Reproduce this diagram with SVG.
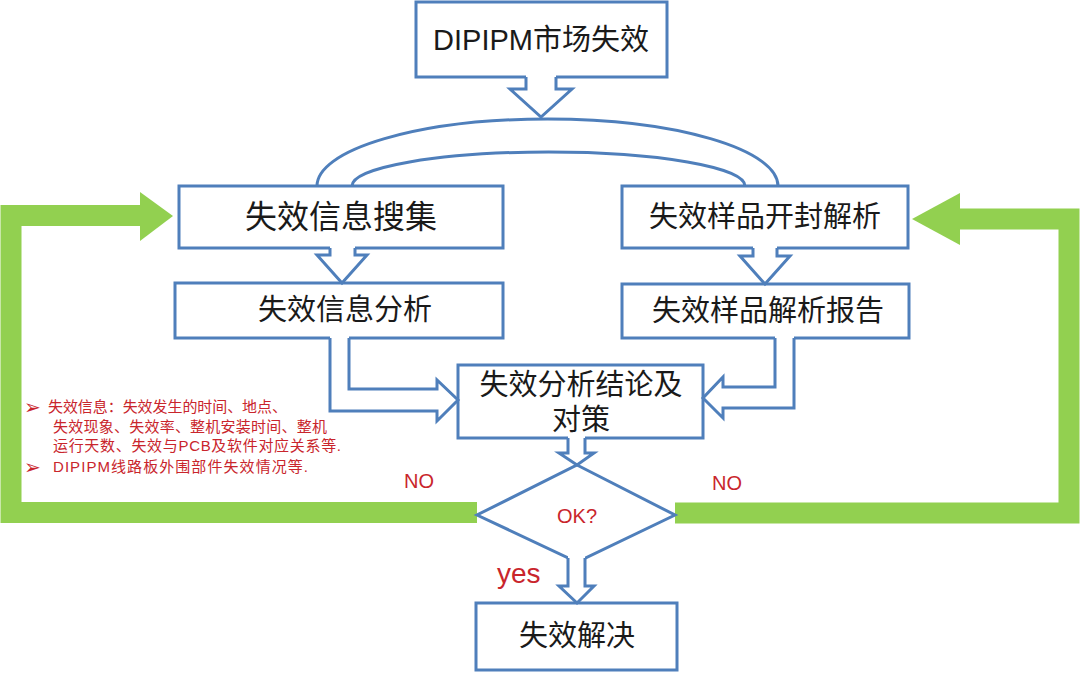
<svg xmlns="http://www.w3.org/2000/svg" width="1080" height="673" viewBox="0 0 1080 673">
<style>
.box{fill:#fff;stroke:#4f7fbb;stroke-width:3}
.bf{fill:#fff;stroke:none}
.bl{fill:none;stroke:#4f7fbb;stroke-width:3;stroke-linejoin:miter}
.g{fill:none;stroke:#92d050;stroke-width:21;stroke-linejoin:miter}
.gh{fill:#92d050}
.t{font-family:"Liberation Sans","Noto Sans CJK SC",sans-serif;fill:#1a1a1a;text-anchor:middle}
.r{font-family:"Liberation Sans","Noto Sans CJK SC",sans-serif;fill:#c9252c}
.bu{font-family:"DejaVu Sans",sans-serif;fill:#c9252c}
</style>
<rect width="1080" height="673" fill="#fff"/>
<g id="feedback">
<path class="g" d="M477,512.5 H11 V215.5 H142"/>
<polygon class="gh" points="140,192 173,216 140,241"/>
<path class="g" d="M675,513 H1069 V219 H958"/>
<polygon class="gh" points="960,193 912,219 960,245"/>
</g>
<g id="n1"><rect class="box" x="416" y="2" width="251" height="75"/><text class="t" x="541" y="50" font-size="29">DIPIPM市场失效</text></g>
<g id="n2"><rect class="box" x="179" y="186" width="324" height="62"/><text class="t" x="341" y="228" font-size="32">失效信息搜集</text></g>
<g id="n3"><rect class="box" x="622" y="186" width="286" height="62"/><text class="t" x="765" y="227" font-size="29">失效样品开封解析</text></g>
<g id="n4"><rect class="box" x="175" y="283" width="328" height="55"/><text class="t" x="345" y="320" font-size="29">失效信息分析</text></g>
<g id="n5"><rect class="box" x="622" y="284" width="287" height="54"/><text class="t" x="768" y="321" font-size="29">失效样品解析报告</text></g>
<g id="n6"><rect class="box" x="458" y="365" width="245" height="73"/><text class="t" x="581" y="395" font-size="29">失效分析结论及</text><text class="t" x="581" y="430" font-size="29">对策</text></g>
<g id="n7"><polygon class="box" points="577,465 675,515 577,562 477,515"/><text class="t" x="577" y="523" font-size="20" style="fill:#c9252c">OK?</text></g>
<g id="n8"><rect class="box" x="476" y="603" width="201" height="67"/><text class="t" x="577" y="646" font-size="29">失效解决</text></g>
<g id="connectors">
<path class="bl" d="M317,186 A230.5,67 0 0 1 778,186"/>
<path class="bl" d="M352,186 A196.5,34 0 0 1 745,186"/>
<path class="bf" d="M526,75 V89 H510 L541,117 L572,89 H556 V75 Z"/>
<path class="bl" d="M526,77 V89 H510 L541,117 L572,89 H556 V77"/>
<path class="bf" d="M330,246 V255 H317 L342,283 L367,255 H355 V246 Z"/>
<path class="bl" d="M330,248 V255 H317 L342,283 L367,255 H355 V248"/>
<path class="bf" d="M753,246 V256 H740 L765,284 L790,256 H777 V246 Z"/>
<path class="bl" d="M753,248 V256 H740 L765,284 L790,256 H777 V248"/>
<path class="bf" d="M330,336 V411 H437 V421 L458,400 L437,380 V389 H349 V336 Z"/>
<path class="bl" d="M330,338 V411 H437 V421 L458,400 L437,380 V389 H349 V338"/>
<path class="bf" d="M794,336 V408 H723 V418 L703,398 L723,377 V387 H775 V336 Z"/>
<path class="bl" d="M794,338 V408 H723 V418 L703,398 L723,377 V387 H775 V338"/>
<path class="bf" d="M568,436 V453 H559 L577,465 L594,453 H585 V436 Z"/>
<path class="bl" d="M568,438 V453 H559 L577,465 L594,453 H585 V438"/>
<path class="bf" d="M568,556 V586 H559 L577,603 L594,586 H585 V556 Z"/>
<path class="bl" d="M568,558 V586 H559 L577,603 L594,586 H585 V558"/>
</g>
<g id="labels">
<text class="r" x="404" y="488" font-size="20">NO</text>
<text class="r" x="712" y="490" font-size="20">NO</text>
<text class="r" x="497" y="583" font-size="28">yes</text>
</g>
<g id="note">
<text class="bu" x="24" y="414" font-size="20">➢</text>
<text class="r" x="48" y="412" font-size="15" textLength="239" lengthAdjust="spacing">失效信息：失效发生的时间、地点、</text>
<text class="r" x="53" y="432" font-size="15" textLength="274" lengthAdjust="spacing">失效现象、失效率、整机安装时间、整机</text>
<text class="r" x="53" y="451" font-size="15" textLength="288" lengthAdjust="spacing">运行天数、失效与PCB及软件对应关系等.</text>
<text class="bu" x="24" y="474" font-size="20">➢</text>
<text class="r" x="53" y="472" font-size="15" textLength="255" lengthAdjust="spacing">DIPIPM线路板外围部件失效情况等.</text>
</g>
</svg>
